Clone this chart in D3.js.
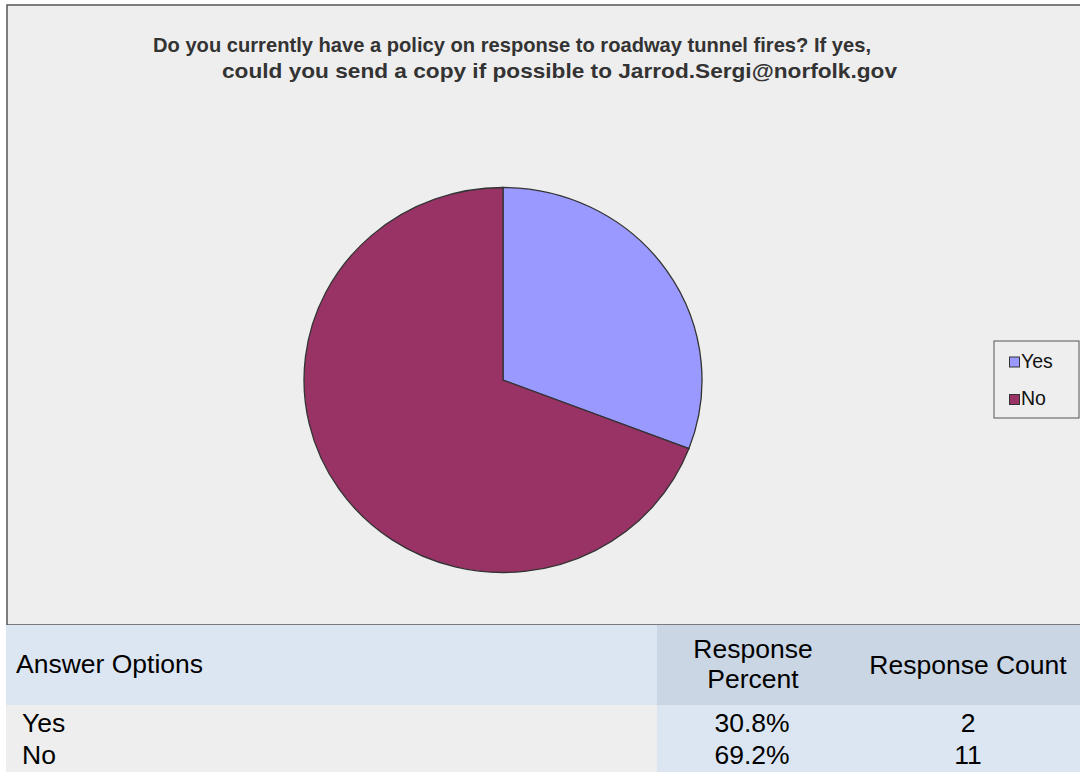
<!DOCTYPE html>
<html>
<head>
<meta charset="utf-8">
<script src="https://cdn.jsdelivr.net/npm/d3@7"></script>
<style>
  html, body { margin: 0; padding: 0; background: #ffffff; }
  svg { display: block; font-family: "Liberation Sans", Arial, sans-serif; }
</style>
</head>
<body>
<svg id="chart" width="1080" height="772"></svg>
<script>
// Survey question and answers
const titleLines = [
  "Do you currently have a policy on response to roadway tunnel fires? If yes,",
  "could you send a copy if possible to Jarrod.Sergi@norfolk.gov"
];
const categories = ["Yes", "No"];
const percents = [30.8, 69.2];
const counts = [2, 11];
const sliceColors = ["#9999ff", "#993366"];
const tableHeaders = ["Answer Options", ["Response", "Percent"], "Response Count"];

const W = 1080, H = 772;
const svg = d3.select("#chart");

// Chart panel
svg.append("rect")
  .attr("x", 7).attr("y", 5)
  .attr("width", 1090).attr("height", 620)
  .attr("fill", "#eeeeee")
  .attr("stroke", "#555555")
  .attr("stroke-width", 1.5);

// Title
const titleX = [153, 222];
const titleW = [718, 675];
svg.append("g").selectAll("text")
  .data(titleLines)
  .join("text")
  .attr("x", (d, i) => titleX[i])
  .attr("y", (d, i) => 52 + i * 26)
  .attr("textLength", (d, i) => titleW[i])
  .attr("lengthAdjust", "spacingAndGlyphs")
  .attr("font-size", 21)
  .attr("font-weight", "bold")
  .attr("fill", "#333333")
  .text(d => d);

// Pie (slightly flattened vertically)
const cx = 503, cy = 380, r = 199, ry = 192.5;
const pie = d3.pie().sort(null).value(d => d)(percents);
const arc = d3.arc().innerRadius(0).outerRadius(r);
const color = d3.scaleOrdinal().domain(categories).range(sliceColors);

svg.append("g")
  .attr("transform", `translate(${cx},${cy}) scale(1,${ry / r})`)
  .selectAll("path")
  .data(pie)
  .join("path")
  .attr("d", arc)
  .attr("fill", (d, i) => color(categories[i]))
  .attr("stroke", "#333333")
  .attr("stroke-width", 1.3)
  .attr("vector-effect", "non-scaling-stroke");

// Legend
const legend = svg.append("g");
legend.append("rect")
  .attr("x", 994).attr("y", 341)
  .attr("width", 85).attr("height", 77)
  .attr("fill", "#eeeeee")
  .attr("stroke", "#555555")
  .attr("stroke-width", 1);
const legendY = d3.scalePoint().domain(categories).range([361.5, 399]);
const items = legend.selectAll("g.item")
  .data(categories)
  .join("g")
  .attr("class", "item")
  .attr("transform", d => `translate(0,${legendY(d)})`);
items.append("rect")
  .attr("x", 1009.5).attr("y", -4.5)
  .attr("width", 10).attr("height", 10)
  .attr("fill", d => color(d))
  .attr("stroke", "#333333")
  .attr("stroke-width", 1);
items.append("text")
  .attr("x", 1021).attr("y", 6)
  .attr("font-size", 19.5)
  .attr("fill", "#111111")
  .text(d => d);

// Summary table
const colX = [6, 657, 880];
const colEnd = 1080;
const headTop = 625, headBottom = 705;

svg.append("rect").attr("x", colX[0]).attr("y", headTop)
  .attr("width", colX[1] - colX[0]).attr("height", headBottom - headTop)
  .attr("fill", "#dce6f2");
svg.append("rect").attr("x", colX[1]).attr("y", headTop)
  .attr("width", colEnd - colX[1]).attr("height", headBottom - headTop)
  .attr("fill", "#cad6e4");
svg.append("rect").attr("x", colX[0]).attr("y", headBottom)
  .attr("width", colX[1] - colX[0]).attr("height", H - headBottom)
  .attr("fill", "#eeeeee");
svg.append("rect").attr("x", colX[1]).attr("y", headBottom)
  .attr("width", colEnd - colX[1]).attr("height", H - headBottom)
  .attr("fill", "#dce6f2");

const fs = 26.5;
svg.append("text").attr("x", 16).attr("y", 673)
  .attr("font-size", fs).attr("fill", "#000").text(tableHeaders[0]);
svg.append("text").attr("text-anchor", "middle")
  .attr("font-size", fs).attr("fill", "#000")
  .selectAll("tspan").data(tableHeaders[1]).join("tspan")
  .attr("x", 753).attr("y", (d, i) => 658 + i * 30)
  .text(d => d);
svg.append("text").attr("x", 968).attr("y", 674).attr("text-anchor", "middle")
  .attr("font-size", fs).attr("fill", "#000").text(tableHeaders[2]);

const rowY = d3.scalePoint().domain(categories).range([732, 764]);
const fmtPct = d3.format(".1f");
const rows = svg.append("g").selectAll("g")
  .data(categories.map((c, i) => ({ c, p: percents[i], n: counts[i] })))
  .join("g");
rows.append("text").attr("x", 22).attr("y", d => rowY(d.c))
  .attr("font-size", fs).attr("fill", "#000").text(d => d.c);
rows.append("text").attr("x", 752).attr("y", d => rowY(d.c))
  .attr("text-anchor", "middle")
  .attr("font-size", fs).attr("fill", "#000").text(d => fmtPct(d.p) + "%");
rows.append("text").attr("x", 968).attr("y", d => rowY(d.c))
  .attr("text-anchor", "middle")
  .attr("font-size", fs).attr("fill", "#000").text(d => d.n);
</script>
</body>
</html>
